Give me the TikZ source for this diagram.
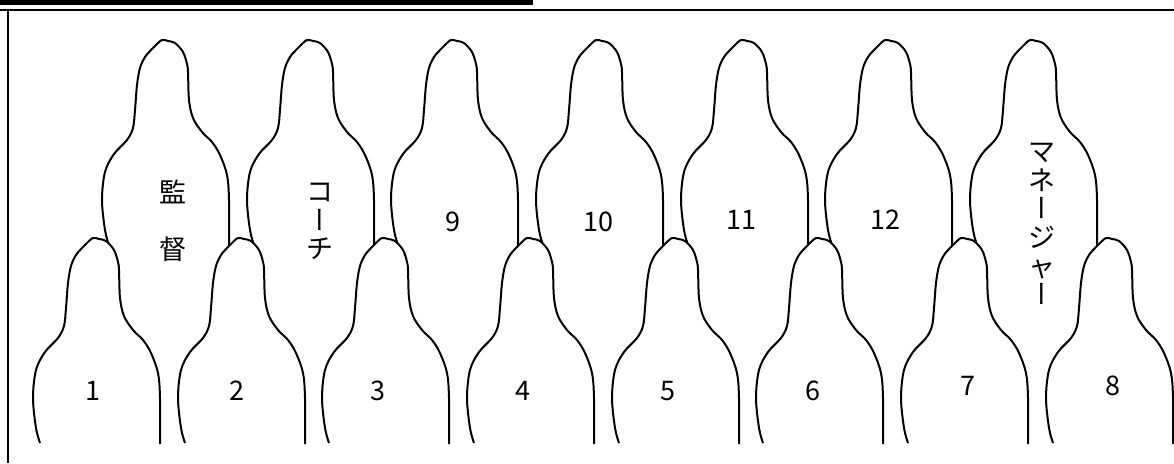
\documentclass[tikz,border=0pt]{standalone}
\usepackage{fontspec}
\newfontfamily\jpfont{Noto Sans CJK JP}
\newfontfamily\jpvert[RawFeature=+vert]{Noto Sans CJK JP}

% outline of one player, head top at (0,0)
\newcommand{\playeroutline}{plot[smooth, tension=0.55] coordinates {(-53,205) (-57,190) (-60,160) (-57,132) (-48,114) (-35,100) (-29,88) (-27,70) (-25,45) (-22,28) (-17,17) (-10,9) (-6,5) (0,0) (6,1) (13,3) (21,12) (25,24) (26,32) (27,60) (31,78) (40,92) (50,102) (58,115) (65,135) (67,160) (67,206)}}

\begin{document}
\begin{tikzpicture}[
  x=1pt, y=-1pt,
  every node/.style={font=\jpfont\fontsize{27}{28.6}\selectfont},
  outline/.style={draw, line width=2pt, line join=round},
  frameline/.style={line width=2.4pt},
  label/.style={align=center, inner sep=0pt},
  pics/player/.style={code={
    \fill[white] \playeroutline -- cycle;
    \draw[outline] \playeroutline;
  }}
]
\useasboundingbox (0,0) rectangle (1174,463);

% Title bar and frame
\fill (0,0) rectangle (533,4.5);
\draw[frameline] (0,10) -- (1174,10);
\draw[frameline] (8,10) -- (8,463);

% Back row
\pic (manager) at (162,40) {player};
\pic (coach) at (307,40) {player};
\pic (p9) at (451,40) {player};
\pic (p10) at (596,40) {player};
\pic (p11) at (741,40) {player};
\pic (p12) at (885,40) {player};
\pic (mgr) at (1030,40) {player};

% Front row
\pic (p1) at (93,238) {player};
\pic (p2) at (238,238) {player};
\pic (p3) at (382,238) {player};
\pic (p4) at (527,238) {player};
\pic (p5) at (672,238) {player};
\pic (p6) at (816,238) {player};
\pic (p7) at (961,238) {player};
\pic (p8) at (1106,238) {player};

% Back row labels
\node[label] (kantoku) at (173,221) {監\\[28pt]督};
\node[label] (coachlabel) at (320,221.5) {コ\\{\jpvert ー}\\チ};
\node[label] (n9) at (453,222) {9};
\node[label] (n10) at (598,222) {10};
\node[label] (n11) at (741,220) {11};
\node[label] (n12) at (885,220) {12};
\node[label] (mgrlabel) at (1042,224) {マ\\ネ\\{\jpvert ー}\\ジ\\ャ\\{\jpvert ー}};

% Front row labels
\node[label] (n1) at (93,391) {1};
\node[label] (n2) at (237,391) {2};
\node[label] (n3) at (378,391) {3};
\node[label] (n4) at (523,391) {4};
\node[label] (n5) at (668,391) {5};
\node[label] (n6) at (813,391) {6};
\node[label] (n7) at (968,386) {7};
\node[label] (n8) at (1113,386) {8};

\end{tikzpicture}
\end{document}
